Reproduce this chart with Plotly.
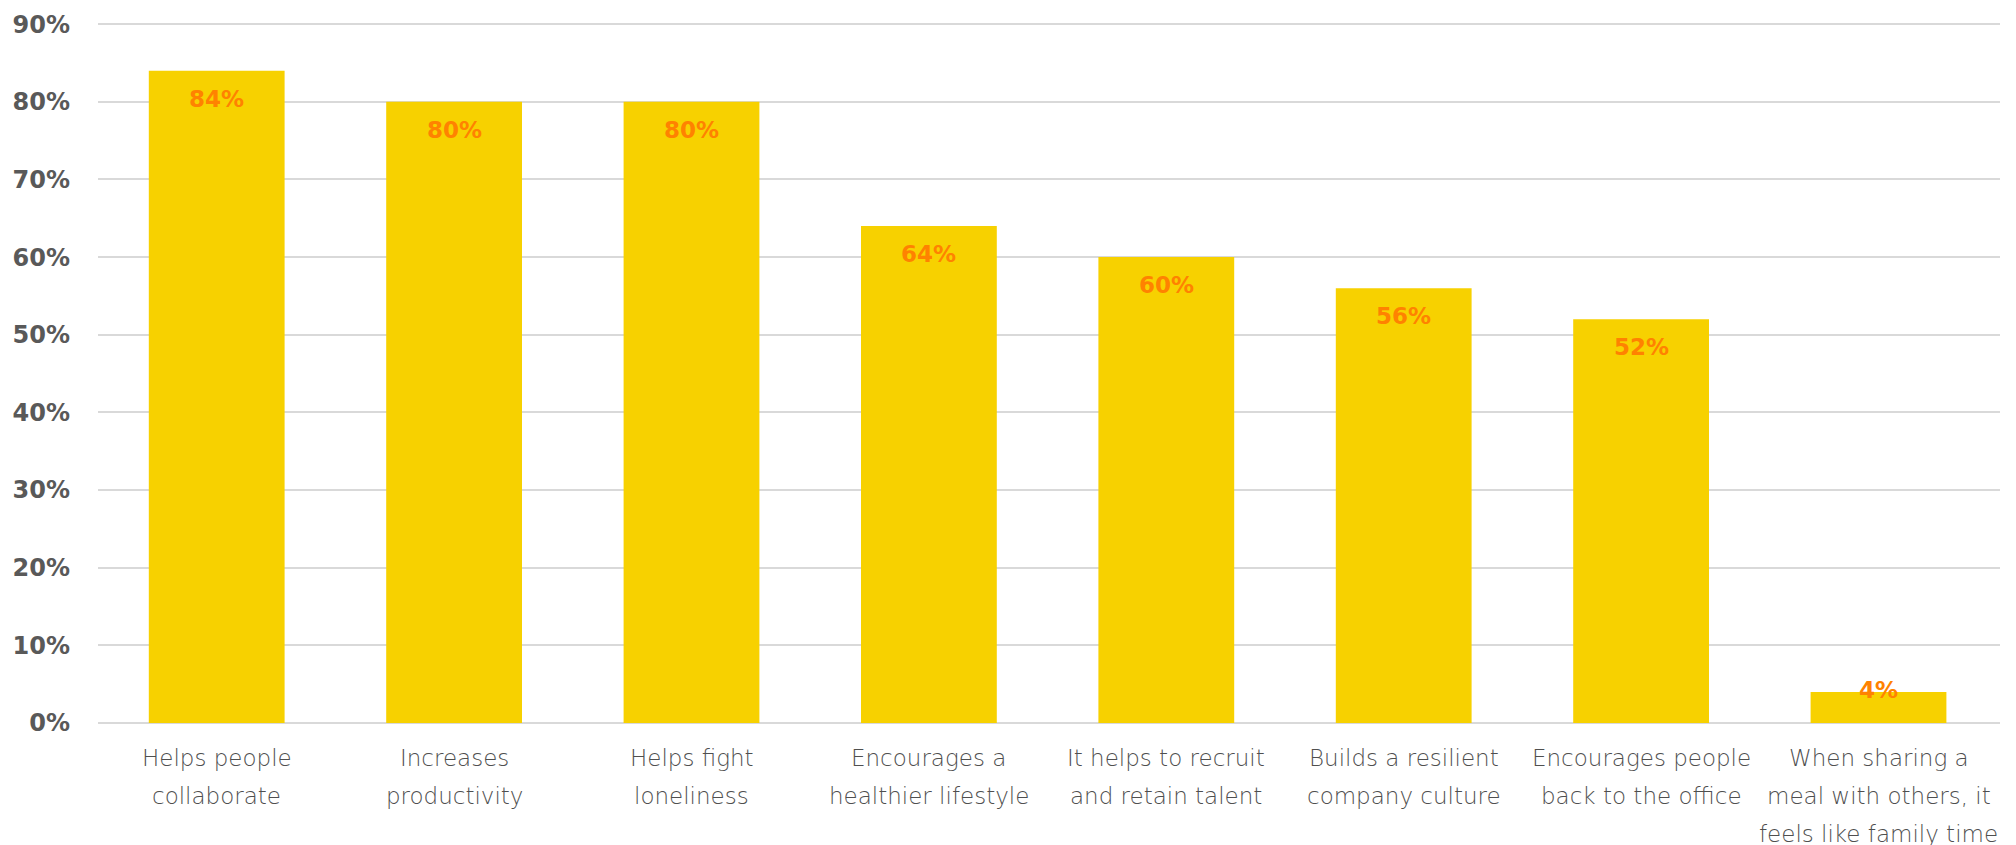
import plotly.graph_objects as go

# Survey results: perceived benefits of sharing meals at work
categories = [
    "Helps people collaborate",
    "Increases productivity",
    "Helps fight loneliness",
    "Encourages a healthier lifestyle",
    "It helps to recruit and retain talent",
    "Builds a resilient company culture",
    "Encourages people back to the office",
    "When sharing a meal with others, it feels like family time",
]
label_lines = [
    ["Helps people", "collaborate"],
    ["Increases", "productivity"],
    ["Helps fight", "loneliness"],
    ["Encourages a", "healthier lifestyle"],
    ["It helps to recruit", "and retain talent"],
    ["Builds a resilient", "company culture"],
    ["Encourages people", "back to the office"],
    ["When sharing a", "meal with others, it", "feels like family time"],
]
values = [84, 80, 80, 64, 60, 56, 52, 4]
y_ticks = list(range(0, 100, 10))

BAR = "#F7D100"
LABEL = "#FF8200"
GREY = "#595959"
TEXT = "#4F4F4F"
GRID = "#D9D9D9"

fig = go.Figure(
    go.Bar(
        x=categories,
        y=values,
        marker=dict(color=BAR, line=dict(width=0)),
        hoverinfo="skip",
    )
)

annotations = []
# value labels near the top of each bar
for cat, v in zip(categories, values):
    annotations.append(dict(
        x=cat, y=v, xref="x", yref="y",
        text=f"{v}%", showarrow=False,
        yanchor="middle", yshift=-28 if v >= 10 else 2,
        font=dict(family="DejaVu Sans", size=23, color=LABEL, weight=700),
    ))
# category labels, one annotation per line
for cat, lines in zip(categories, label_lines):
    for i, line in enumerate(lines):
        annotations.append(dict(
            x=cat, y=0, xref="x", yref="y",
            text=line, showarrow=False,
            yanchor="middle", yshift=-35 - 38 * i,
            font=dict(family="DejaVu Sans", size=23, color=TEXT, weight=300),
        ))

fig.update_layout(
    width=2016, height=845,
    margin=dict(l=98, r=16, t=23, b=122, autoexpand=False),
    paper_bgcolor="white", plot_bgcolor="white",
    bargap=0.428,
    showlegend=False,
    annotations=annotations,
    xaxis=dict(showticklabels=False, showline=False, showgrid=False, ticks="",
               automargin=False),
    yaxis=dict(
        range=[0, 90.15],
        automargin=False,
        tickvals=y_ticks,
        ticktext=[f"{t}%" for t in y_ticks],
        showgrid=True, gridcolor=GRID, gridwidth=2,
        zeroline=True, zerolinecolor=GRID, zerolinewidth=2,
        showline=False, ticks="",
        ticklabelstandoff=27,
        tickfont=dict(family="DejaVu Sans", size=24, color=GREY, weight=700),
    ),
)

fig.write_html("out.html")
